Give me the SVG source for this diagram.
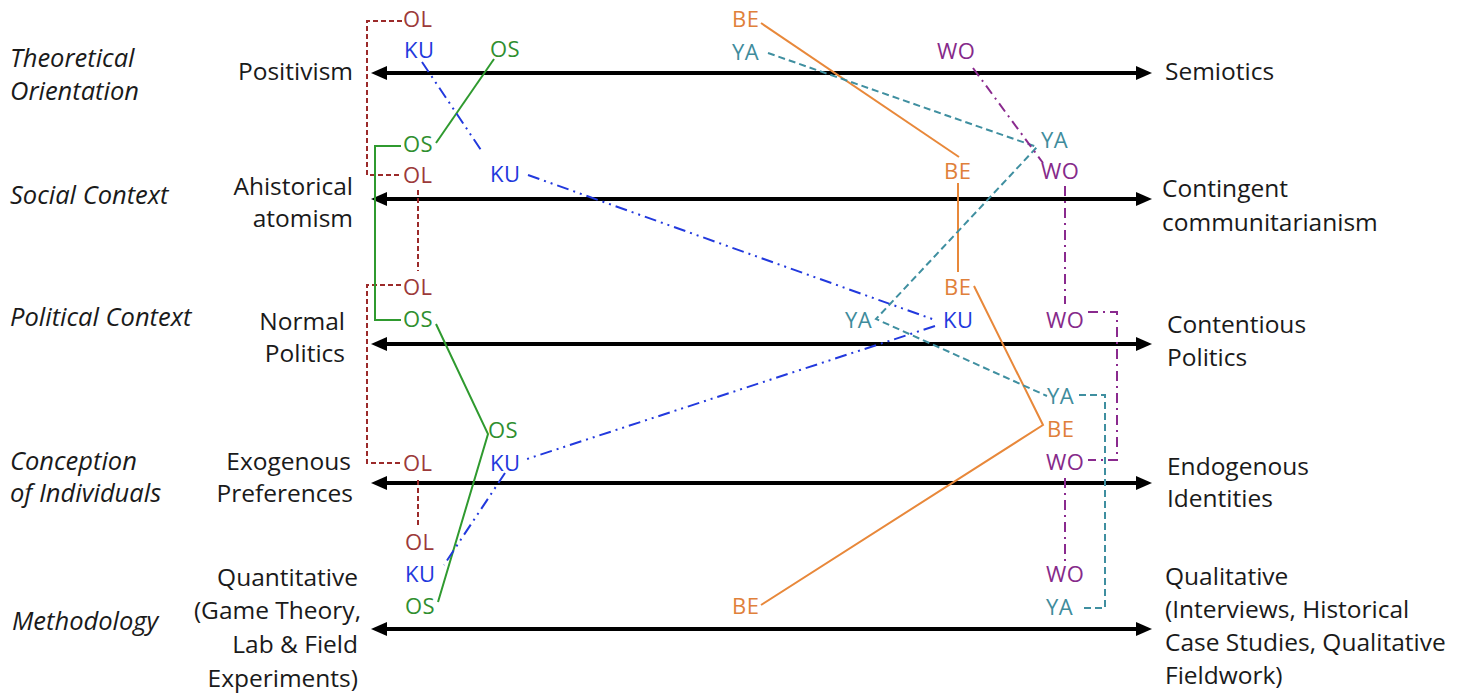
<svg xmlns="http://www.w3.org/2000/svg" width="1467" height="693" viewBox="0 0 1467 693">
  <defs>
    <marker id="head" viewBox="0 0 16 14" refX="8" refY="7" markerWidth="16" markerHeight="14" markerUnits="userSpaceOnUse" orient="auto-start-reverse">
      <path d="M0,0 L16,7 L0,14 z" fill="#000"/>
    </marker>
    <style>
      text { font-family: "Open Sans", "Noto Sans", sans-serif; }
      .dim { font-size: 25.5px; font-style: italic; fill: #1a1a1a; }
      .pole { font-size: 24.5px; fill: #1a1a1a; }
      .left { text-anchor: end; }
      .axis { stroke: #000; stroke-width: 4; fill: none; marker-start: url(#head); marker-end: url(#head); }
      .mk { font-size: 22px; letter-spacing: 0.5px; }
      .link { fill: none; stroke-width: 2; }
      .ol { fill: #9c3a3a; } .ol-l { stroke: #9b2a2a; stroke-dasharray: 5 3; }
      .os { fill: #2f8f2f; } .os-l { stroke: #2f9a2f; }
      .ku { fill: #2239dd; } .ku-l { stroke: #2239dd; stroke-dasharray: 12 5 2 5 2 5; }
      .be { fill: #e0803a; } .be-l { stroke: #e8883a; }
      .ya { fill: #3f8c9c; } .ya-l { stroke: #3f8fa0; stroke-dasharray: 7 4; }
      .wo { fill: #862a8a; } .wo-l { stroke: #8a2a8e; stroke-dasharray: 10 5 2 5; }
    </style>
  </defs>

  <!-- dimension names -->
  <g id="dimensions">
    <text class="dim" x="10" y="67">Theoretical</text>
    <text class="dim" x="10" y="100">Orientation</text>
    <text class="dim" x="10" y="204">Social Context</text>
    <text class="dim" x="10" y="326">Political Context</text>
    <text class="dim" x="10" y="470">Conception</text>
    <text class="dim" x="10" y="502">of Individuals</text>
    <text class="dim" x="12" y="630">Methodology</text>
  </g>

  <!-- left poles -->
  <g id="poles-left">
    <text class="pole left" x="353" y="80">Positivism</text>
    <text class="pole left" x="353" y="195">Ahistorical</text>
    <text class="pole left" x="353" y="227">atomism</text>
    <text class="pole left" x="345" y="330">Normal</text>
    <text class="pole left" x="345" y="362">Politics</text>
    <text class="pole left" x="351" y="470">Exogenous</text>
    <text class="pole left" x="353" y="502">Preferences</text>
    <text class="pole left" x="358" y="586">Quantitative</text>
    <text class="pole left" x="361" y="619">(Game Theory,</text>
    <text class="pole left" x="358" y="653">Lab &amp; Field</text>
    <text class="pole left" x="358" y="687">Experiments)</text>
  </g>

  <!-- right poles -->
  <g id="poles-right">
    <text class="pole" x="1165" y="80">Semiotics</text>
    <text class="pole" x="1162" y="197">Contingent</text>
    <text class="pole" x="1162" y="231">communitarianism</text>
    <text class="pole" x="1167" y="333">Contentious</text>
    <text class="pole" x="1167" y="366">Politics</text>
    <text class="pole" x="1167" y="475">Endogenous</text>
    <text class="pole" x="1167" y="507">Identities</text>
    <text class="pole" x="1165" y="585">Qualitative</text>
    <text class="pole" x="1165" y="618">(Interviews, Historical</text>
    <text class="pole" x="1165" y="651">Case Studies, Qualitative</text>
    <text class="pole" x="1165" y="684">Fieldwork)</text>
  </g>

  <!-- the five axes -->
  <g id="axes">
    <line class="axis" x1="379" y1="73" x2="1144" y2="73"/>
    <line class="axis" x1="379" y1="199" x2="1144" y2="199"/>
    <line class="axis" x1="379" y1="344" x2="1144" y2="344"/>
    <line class="axis" x1="379" y1="483" x2="1144" y2="483"/>
    <line class="axis" x1="379" y1="629" x2="1144" y2="629"/>
  </g>

  <!-- connectors between scholar positions -->
  <g id="connectors">
    <!-- OL -->
    <path class="link ol-l" d="M402,21 H367 V175 H401"/>
    <path class="link ol-l" d="M418,190 V271"/>
    <path class="link ol-l" d="M401,285 H367 V463 H401"/>
    <path class="link ol-l" d="M418,480 V526"/>
    <!-- OS -->
    <path class="link os-l" d="M494,59 L436,143"/>
    <path class="link os-l" d="M401,146 H375 V320 H401"/>
    <path class="link os-l" d="M436,324 L488,434 L438,602"/>
    <!-- KU -->
    <path class="link ku-l" d="M422,62 L483,153"/>
    <path class="link ku-l" d="M528,175 L935,320"/>
    <path class="link ku-l" d="M935,326 L527,459"/>
    <path class="link ku-l" d="M505,473 L444,565"/>
    <!-- BE -->
    <path class="link be-l" d="M761,23 L959,157"/>
    <path class="link be-l" d="M958,183 V272"/>
    <path class="link be-l" d="M974,286 L1043,425 L761,605"/>
    <!-- YA -->
    <path class="link ya-l" d="M768,53 L1037,147 L876,319 L1047,396"/>
    <path class="link ya-l" d="M1079,395 H1105 V608 H1080"/>
    <!-- WO -->
    <path class="link wo-l" d="M973,68 L1043,163"/>
    <path class="link wo-l" d="M1065,186 V304"/>
    <path class="link wo-l" d="M1088,312 H1117 V460 H1088"/>
    <path class="link wo-l" d="M1065,478 V562"/>
  </g>

  <!-- scholar markers -->
  <g id="OL" class="mk ol">
    <text x="403" y="27">OL</text>
    <text x="403" y="183">OL</text>
    <text x="403" y="295">OL</text>
    <text x="403" y="471">OL</text>
    <text x="405" y="550">OL</text>
  </g>
  <g id="OS" class="mk os">
    <text x="490" y="57">OS</text>
    <text x="403" y="152">OS</text>
    <text x="403" y="327">OS</text>
    <text x="488" y="438">OS</text>
    <text x="405" y="614">OS</text>
  </g>
  <g id="KU" class="mk ku">
    <text x="404" y="58">KU</text>
    <text x="490" y="182">KU</text>
    <text x="943" y="328">KU</text>
    <text x="490" y="471">KU</text>
    <text x="405" y="582">KU</text>
  </g>
  <g id="BE" class="mk be">
    <text x="732" y="27">BE</text>
    <text x="944" y="179">BE</text>
    <text x="944" y="295">BE</text>
    <text x="1047" y="437">BE</text>
    <text x="732" y="614">BE</text>
  </g>
  <g id="YA" class="mk ya">
    <text x="732" y="60">YA</text>
    <text x="1041" y="148">YA</text>
    <text x="845" y="328">YA</text>
    <text x="1047" y="404">YA</text>
    <text x="1046" y="615">YA</text>
  </g>
  <g id="WO" class="mk wo">
    <text x="937" y="59">WO</text>
    <text x="1041" y="179">WO</text>
    <text x="1046" y="328">WO</text>
    <text x="1046" y="470">WO</text>
    <text x="1046" y="582">WO</text>
  </g>
</svg>
